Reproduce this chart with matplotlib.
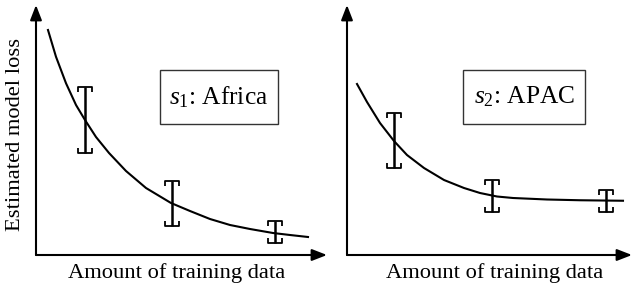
import matplotlib
matplotlib.use('Agg')
import matplotlib.pyplot as plt
from matplotlib.path import Path
from matplotlib.patches import Rectangle

plt.rcParams['font.family'] = ['Liberation Serif', 'DejaVu Serif']
plt.rcParams['mathtext.fontset'] = 'custom'
plt.rcParams['mathtext.rm'] = 'Liberation Serif'
plt.rcParams['mathtext.it'] = 'Liberation Serif:italic'

# fitted loss curves (axis units 0-100)
africa_x = [4.12, 6.87, 10.31, 13.75, 16.84, 20.62, 25.09, 30.93, 37.80,
            46.39, 52.92, 59.79, 66.67, 73.54, 81.44, 87.29, 93.47]
africa_y = [90, 79.3, 68.7, 60, 54, 47.2, 40.8, 33.6, 26.8,
            20.8, 17.6, 14.4, 12, 10.4, 8.8, 8, 7.2]
apac_x = [3.51, 7.02, 11.58, 16.49, 21.05, 27.02, 34.04, 41.05, 46.67,
          52.63, 58.25, 70.18, 81.75, 96.84]
apac_y = [68.4, 61.2, 52.8, 45.6, 40, 34.8, 30, 26.8, 24.8,
          23.4, 22.8, 22.2, 21.9, 21.7]

# error bars: position, upper and lower end
africa_bar_x = [16.8, 46.7, 82.1]
africa_bar_hi = [67.2, 29.6, 13.6]
africa_bar_lo = [40.8, 11.6, 4.8]
apac_bar_x = [16.5, 50.9, 90.9]
apac_bar_hi = [56.8, 30, 26]
apac_bar_lo = [34.8, 17.2, 17.2]

titles = [r'$s_{\mathit{1}}$: Africa', r'$s_{\mathit{2}}$: APAC']
xlabel = 'Amount of training data'
ylabel = 'Estimated model loss'

W, H = 634, 287
fig = plt.figure(figsize=(W / 100, H / 100), dpi=100)

# cap markers: a bar with short ticks pointing toward the error bar
top_cap = Path([(-1, -0.75), (-1, 0), (1, 0), (1, -0.75)],
               [Path.MOVETO, Path.LINETO, Path.LINETO, Path.LINETO])
bot_cap = Path([(-1, 0.75), (-1, 0), (1, 0), (1, 0.75)],
               [Path.MOVETO, Path.LINETO, Path.LINETO, Path.LINETO])

panels = [
    (36, 327, africa_x, africa_y, africa_bar_x, africa_bar_hi, africa_bar_lo,
     (160, 278), 177),
    (347, 632, apac_x, apac_y, apac_bar_x, apac_bar_hi, apac_bar_lo,
     (463, 585), 495),
]

for i, (x0, x1, cx, cy, bx, bhi, blo, box, xlab_c) in enumerate(panels):
    ax = fig.add_axes([x0 / W, (H - 255) / H, (x1 - x0) / W, 250 / H])
    ax.set_xlim(0, 100)
    ax.set_ylim(0, 100)
    ax.axis('off')

    # axis arrows
    arrow = dict(arrowstyle='-|>,head_length=0.9,head_width=0.35',
                 color='black', lw=1.5, shrinkA=0, shrinkB=0)
    ax.annotate('', xy=(1, 0), xytext=(0, 0), xycoords='axes fraction',
                arrowprops=arrow, annotation_clip=False)
    ax.annotate('', xy=(0, 1), xytext=(0, 0), xycoords='axes fraction',
                arrowprops=arrow, annotation_clip=False)

    ax.plot(cx, cy, color='black', lw=1.5, solid_joinstyle='round')

    ax.vlines(bx, blo, bhi, color='black', lw=1.8)
    ax.plot(bx, bhi, ls='none', marker=top_cap, ms=10, mew=1.3,
            mec='black', mfc='none')
    ax.plot(bx, blo, ls='none', marker=bot_cap, ms=10, mew=1.3,
            mec='black', mfc='none')

    # label box
    bx0, bx1 = box
    fx0 = (bx0 - x0) / (x1 - x0)
    fw = (bx1 - bx0) / (x1 - x0)
    ax.add_patch(Rectangle((fx0, (255 - 124) / 250), fw, 54 / 250,
                           transform=ax.transAxes, fill=False,
                           edgecolor='#333333', lw=1.0))
    ax.text(fx0 + fw / 2, (255 - 97) / 250, titles[i], transform=ax.transAxes,
            ha='center', va='center', fontsize=18.3)

    fig.text(xlab_c / W, 1 - 273 / H, xlabel, ha='center', va='center',
             fontsize=16.2)

fig.text(16 / W, 1 - 134 / H, ylabel, rotation=90, ha='center', va='center',
         fontsize=16.2)

fig.savefig('out.png', dpi=100)
